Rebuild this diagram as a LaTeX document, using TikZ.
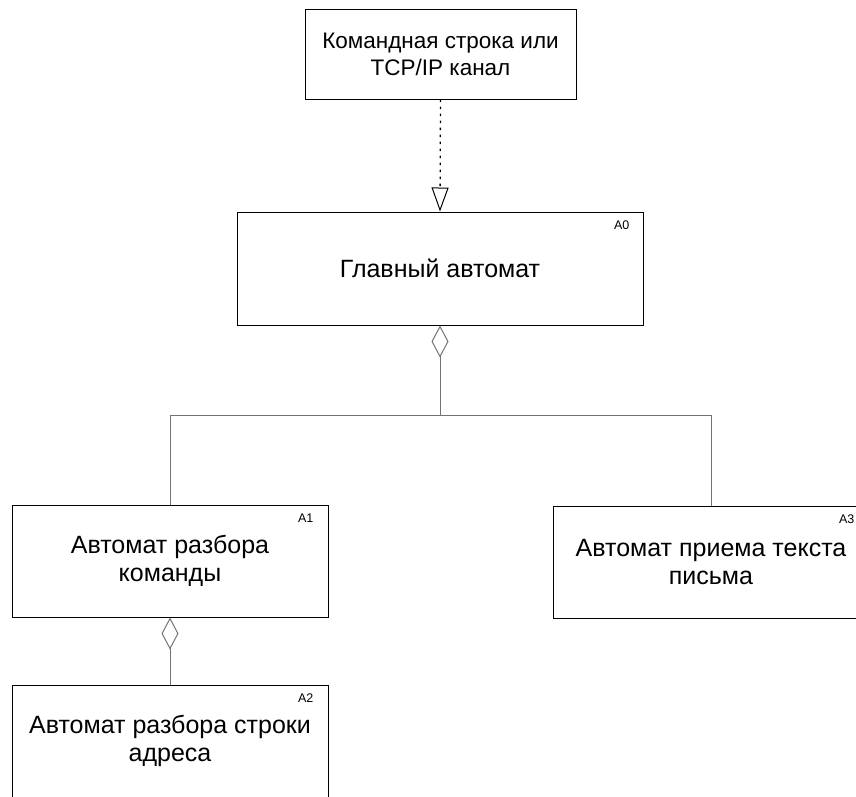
\documentclass[tikz,border=0pt]{standalone}
\usepackage{fontspec}
\setmainfont{Liberation Sans}
\usetikzlibrary{arrows.meta}
\begin{document}
\begin{tikzpicture}[x=1pt,y=-1pt,
  box/.style={draw=black, line width=1pt, fill=white, align=center, inner sep=0pt,
    font=\fontsize{25}{28}\selectfont},
  lbl/.style={font=\fontsize{12.5}{14}\selectfont, inner sep=0pt},
  conn/.style={draw=black!55, line width=1pt},
  dep/.style={draw=black, line width=1.3pt, dash pattern=on 2.5pt off 4.5pt,
    -{Triangle[open,length=24pt,width=17pt,line width=1pt]}},
  agg/.style={conn, {Diamond[open,length=32pt,width=17pt,line width=1pt]}-}]
\useasboundingbox (0,0) rectangle (856,796);
\clip (0,0) rectangle (856,796);
\node[box, minimum width=271pt, minimum height=90pt, font=\fontsize{22.5}{27}\selectfont] (src) at (440.5,54) {Командная строка или\\TCP/IP канал};
\node[box, minimum width=406pt, minimum height=113pt] (main) at (440,268.5) {Главный автомат};
\node[box, minimum width=316pt, minimum height=112pt] (a1) at (170,561) {Автомат разбора\\команды};
\node[box, minimum width=316pt, minimum height=112pt] (a3) at (711,562) {Автомат приема текста\\письма};
\node[box, minimum width=316pt, minimum height=112pt] (a2) at (170,741) {Автомат разбора строки\\адреса};
\node[lbl, anchor=north east] (l0) at ([xshift=-14pt,yshift=-9pt]main.north east) {A0};
\node[lbl, anchor=north east] (l1) at ([xshift=-15pt,yshift=-9pt]a1.north east) {A1};
\node[lbl, anchor=north east] (l2) at ([xshift=-15pt,yshift=-9pt]a2.north east) {A2};
\node[lbl, anchor=north east] (l3) at ([xshift=-15pt,yshift=-9pt]a3.north east) {A3};
\coordinate (j) at (440,415);
\draw[dep] (src.south) -- (main.north);
\draw[agg] (main.south) -- (j) -| (a1.north);
\draw[conn] (j) -| (a3.north);
\draw[agg] (a1.south) -- (a2.north);
\end{tikzpicture}
\end{document}
